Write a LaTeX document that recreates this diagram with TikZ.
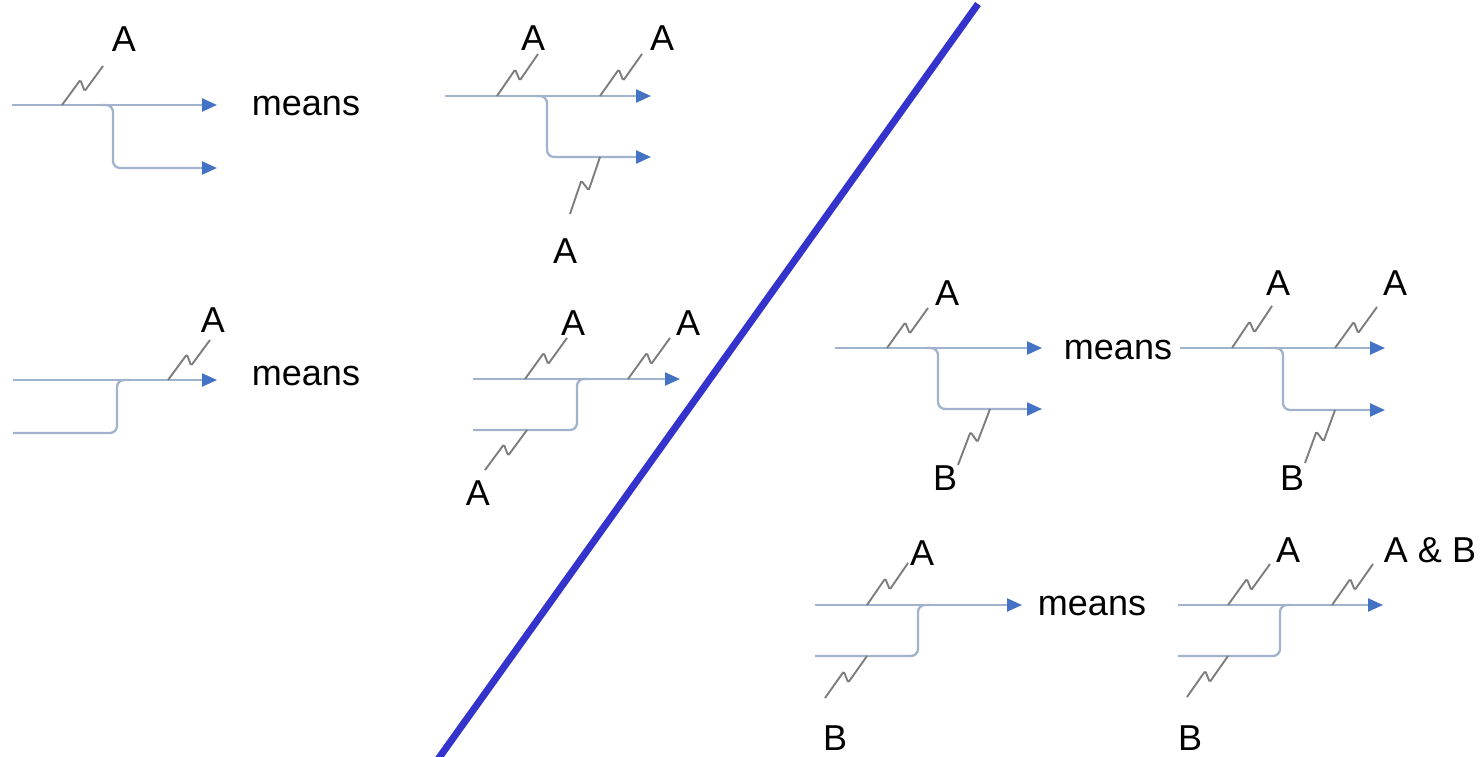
\documentclass[tikz,border=0pt]{standalone}
\usepackage{fontspec}
\setmainfont{Liberation Sans}
\usetikzlibrary{arrows.meta,calc}
\definecolor{linec}{RGB}{160,178,204}
\definecolor{arrowc}{RGB}{68,114,196}
\definecolor{zigc}{RGB}{125,125,125}
\definecolor{divc}{RGB}{52,52,204}
\newcommand{\zigz}[2]{\draw[zig] (#1) -- ($(#1)!0.54!(#2)!5.5pt!90:(#2)$) -- ($(#1)!0.46!(#2)!5.5pt!-90:(#2)$) -- (#2);}
\begin{document}
\begin{tikzpicture}[x=1pt,y=-1pt,
  flow/.style={draw=linec, line width=2.3pt, -{Triangle[length=15pt,width=13pt,color=arrowc]}},
  branch/.style={flow, rounded corners=7pt},
  mergeline/.style={draw=linec, line width=2.3pt, rounded corners=7pt},
  zig/.style={draw=zigc, line width=1.9pt, rounded corners=1.5pt},
  lab/.style={inner sep=0pt, font=\fontsize{36}{40}\selectfont},
  divider/.style={draw=divc, line width=7pt}]
\clip (0,0) rectangle (1483,756);
% divider
\coordinate (dv1) at (978,4);
\coordinate (dv2) at (436,762);
\draw[divider] (dv1) -- (dv2);
% panel 1
\coordinate (p1s) at (12,105); \coordinate (p1e) at (217,105);
\coordinate (p1b) at (100,105); \coordinate (p1v) at (113,168); \coordinate (p1f) at (217,168);
\draw[flow] (p1s) -- (p1e);
\draw[branch] (p1b) -| (p1v) -- (p1f);
\coordinate (z1a) at (62,105); \coordinate (z1b) at (103,66); \zigz{z1a}{z1b}
\node[lab] (a1) at (124,39) {A};
\node[lab] (m1) at (306,106) {means};
% panel 2
\coordinate (p2s) at (445,96); \coordinate (p2e) at (651,96);
\coordinate (p2b) at (535,96); \coordinate (p2v) at (547,157); \coordinate (p2f) at (651,157);
\draw[flow] (p2s) -- (p2e);
\draw[branch] (p2b) -| (p2v) -- (p2f);
\coordinate (z2a) at (497,96); \coordinate (z2b) at (538,54); \zigz{z2a}{z2b}
\coordinate (z3a) at (600,96); \coordinate (z3b) at (642,54); \zigz{z3a}{z3b}
\coordinate (z4a) at (570,214); \coordinate (z4b) at (600,157); \zigz{z4a}{z4b}
\node[lab] (a2) at (533,38) {A};
\node[lab] (a3) at (662,38) {A};
\node[lab] (a4) at (565,251) {A};
% panel 3
\coordinate (p3s) at (13,380); \coordinate (p3e) at (217,380);
\coordinate (p3l) at (13,433); \coordinate (p3v) at (117,380); \coordinate (p3j) at (130,380);
\draw[flow] (p3s) -- (p3e);
\draw[mergeline] (p3l) -| (p3v) -- (p3j);
\coordinate (z5a) at (168,380); \coordinate (z5b) at (210,340); \zigz{z5a}{z5b}
\node[lab] (a5) at (213,320) {A};
\node[lab] (m2) at (306,376) {means};
% panel 4
\coordinate (p4s) at (473,379); \coordinate (p4e) at (680,379);
\coordinate (p4l) at (473,430); \coordinate (p4v) at (577,379); \coordinate (p4j) at (590,379);
\draw[flow] (p4s) -- (p4e);
\draw[mergeline] (p4l) -| (p4v) -- (p4j);
\coordinate (z6a) at (525,379); \coordinate (z6b) at (567,338); \zigz{z6a}{z6b}
\coordinate (z7a) at (628,379); \coordinate (z7b) at (670,338); \zigz{z7a}{z7b}
\coordinate (z8a) at (485,470); \coordinate (z8b) at (527,430); \zigz{z8a}{z8b}
\node[lab] (a6) at (573,323) {A};
\node[lab] (a7) at (688,323) {A};
\node[lab] (a8) at (478,493) {A};
% panel 5
\coordinate (p5s) at (835,348); \coordinate (p5e) at (1042,348);
\coordinate (p5b) at (925,348); \coordinate (p5v) at (938,409); \coordinate (p5f) at (1042,409);
\draw[flow] (p5s) -- (p5e);
\draw[branch] (p5b) -| (p5v) -- (p5f);
\coordinate (z9a) at (887,348); \coordinate (z9b) at (928,308); \zigz{z9a}{z9b}
\coordinate (z10a) at (958,465); \coordinate (z10b) at (990,409); \zigz{z10a}{z10b}
\node[lab] (a9) at (947,293) {A};
\node[lab] (b1) at (945,478) {B};
\node[lab] (m3) at (1118,350) {means};
% panel 6
\coordinate (p6s) at (1180,348); \coordinate (p6e) at (1385,348);
\coordinate (p6b) at (1270,348); \coordinate (p6v) at (1283,410); \coordinate (p6f) at (1385,410);
\draw[flow] (p6s) -- (p6e);
\draw[branch] (p6b) -| (p6v) -- (p6f);
\coordinate (z11a) at (1232,348); \coordinate (z11b) at (1272,306); \zigz{z11a}{z11b}
\coordinate (z12a) at (1335,348); \coordinate (z12b) at (1377,307); \zigz{z12a}{z12b}
\coordinate (z13a) at (1305,463); \coordinate (z13b) at (1335,410); \zigz{z13a}{z13b}
\node[lab] (a10) at (1278,283) {A};
\node[lab] (a11) at (1395,283) {A};
\node[lab] (b2) at (1292,478) {B};
% panel 7
\coordinate (p7s) at (815,605); \coordinate (p7e) at (1022,605);
\coordinate (p7l) at (815,656); \coordinate (p7v) at (918,605); \coordinate (p7j) at (930,605);
\draw[flow] (p7s) -- (p7e);
\draw[mergeline] (p7l) -| (p7v) -- (p7j);
\coordinate (z14a) at (867,605); \coordinate (z14b) at (908,563); \zigz{z14a}{z14b}
\coordinate (z15a) at (825,698); \coordinate (z15b) at (867,656); \zigz{z15a}{z15b}
\node[lab] (a12) at (922,553) {A};
\node[lab] (b3) at (835,738) {B};
\node[lab] (m4) at (1092,606) {means};
% panel 8
\coordinate (p8s) at (1178,605); \coordinate (p8e) at (1383,605);
\coordinate (p8l) at (1178,656); \coordinate (p8v) at (1280,605); \coordinate (p8j) at (1292,605);
\draw[flow] (p8s) -- (p8e);
\draw[mergeline] (p8l) -| (p8v) -- (p8j);
\coordinate (z16a) at (1228,605); \coordinate (z16b) at (1270,564); \zigz{z16a}{z16b}
\coordinate (z17a) at (1332,605); \coordinate (z17b) at (1373,564); \zigz{z17a}{z17b}
\coordinate (z18a) at (1187,697); \coordinate (z18b) at (1228,656); \zigz{z18a}{z18b}
\node[lab] (a13) at (1288,550) {A};
\node[lab] (ab) at (1430,550) {A \& B};
\node[lab] (b4) at (1190,738) {B};
\end{tikzpicture}
\end{document}
